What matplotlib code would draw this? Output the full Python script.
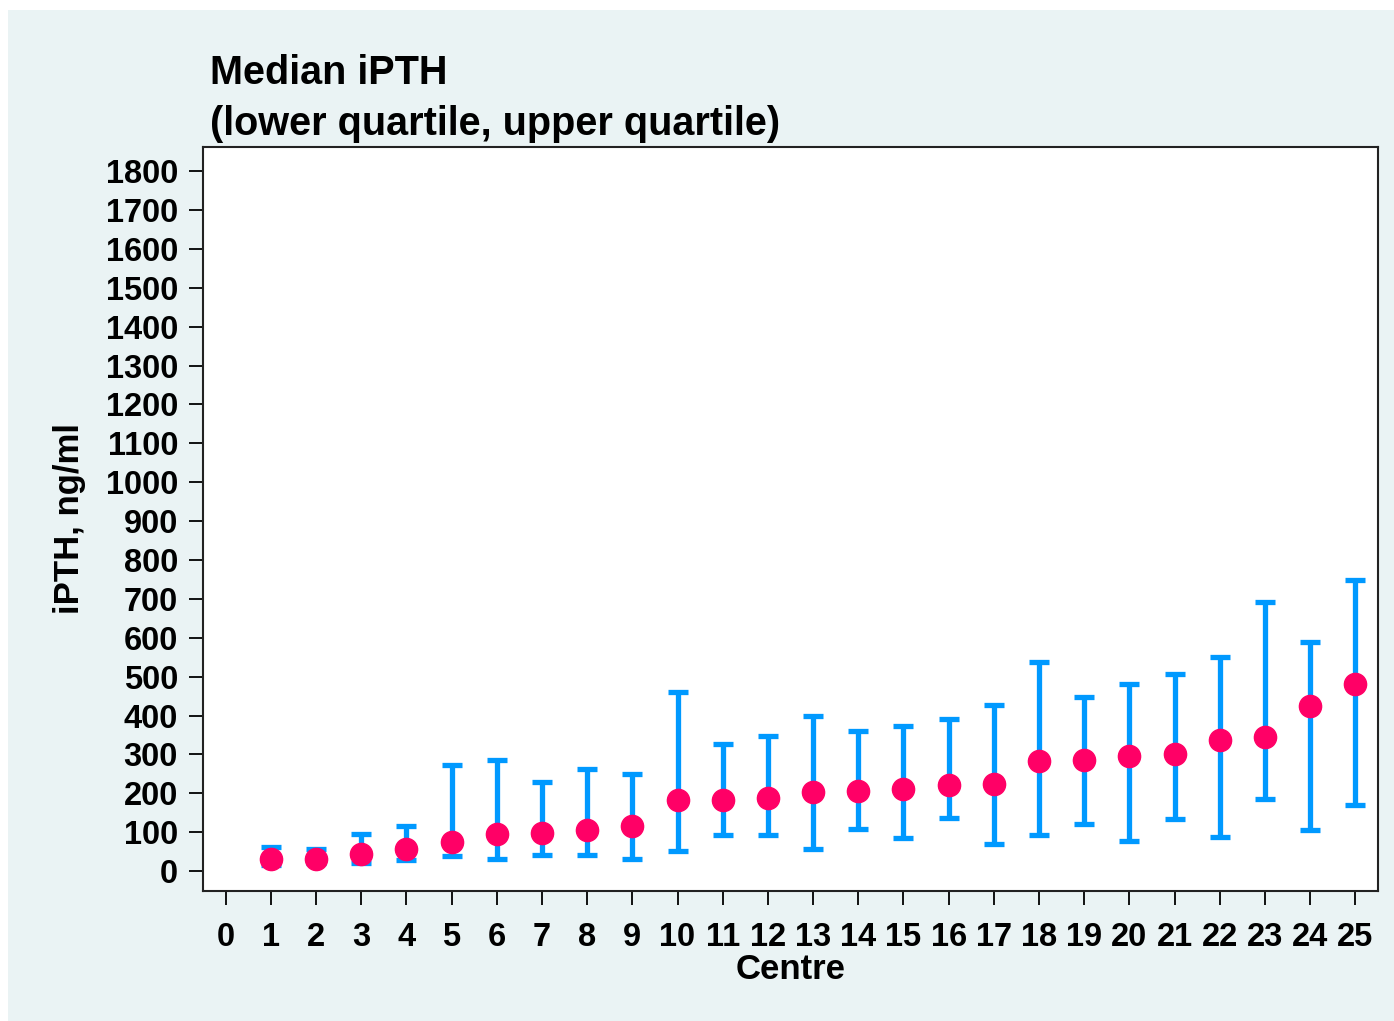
import numpy as np
import matplotlib
matplotlib.use('Agg')
import matplotlib.pyplot as plt
from matplotlib.patches import Rectangle

# Median iPTH per centre with lower / upper quartile
centres = list(range(1, 26))
median = [30, 30, 45, 56, 74, 96, 98, 107, 117, 182, 183, 188, 203, 207, 212,
          221, 223, 282, 285, 295, 300, 336, 344, 424, 482]
lower_q = [15, 20, 20, 28, 38, 32, 42, 42, 32, 52, 92, 93, 57, 109, 85,
           137, 69, 92, 122, 77, 133, 89, 186, 105, 171]
upper_q = [62, 57, 96, 116, 272, 285, 230, 262, 250, 461, 326, 348, 399, 361, 372,
           392, 427, 538, 447, 482, 508, 550, 692, 588, 749]

y_ticks = list(range(0, 1900, 100))
x_ticks = list(range(0, 26))

plt.rcParams['font.family'] = ['Liberation Sans', 'DejaVu Sans']
plt.rcParams['font.weight'] = 'bold'

fig = plt.figure(figsize=(13.94, 10.21), dpi=100)
fig.patch.set_facecolor('white')
# light outer panel, thin white strip on the top and left
fig.patches.append(Rectangle((8 / 1394, 0), 1, 1 - 10 / 1021,
                             transform=fig.transFigure, facecolor='#eaf3f4',
                             edgecolor='none', zorder=-10))

ax = fig.add_axes([203 / 1394, 1 - 891 / 1021, (1378 - 203) / 1394, (891 - 147) / 1021])
ax.set_zorder(1)
ax.set_facecolor('white')

med = np.array(median)
err = [med - np.array(lower_q), np.array(upper_q) - med]
ax.errorbar(centres, med, yerr=err, fmt='none', ecolor='#0099ff',
            elinewidth=3.8, capsize=7, capthick=3.8, zorder=2)
ax.plot(centres, med, 'o', color='#ff0066', markersize=16, zorder=3)

ax.set_xlim(-0.5, 25.5)
ax.set_ylim(-51, 1862)
ax.set_xticks(x_ticks)
ax.set_yticks(y_ticks)
ax.tick_params(axis='both', direction='out', length=10, width=1.3, labelsize=23.5)
ax.tick_params(axis='x', pad=12)
ax.tick_params(axis='y', pad=8)
for lbl in ax.get_xticklabels() + ax.get_yticklabels():
    lbl.set_fontweight('bold')
for s in ax.spines.values():
    s.set_linewidth(1.5)
    s.set_color('#222222')

ax.set_xlabel('Centre', fontsize=25, fontweight='bold', labelpad=0)
ax.set_ylabel('iPTH, ng/ml', fontsize=25, fontweight='bold', labelpad=14)

fig.text(210 / 1394, 1 - 73 / 1021, 'Median iPTH', fontsize=28.5, fontweight='bold', va='center')
fig.text(210 / 1394, 1 - 124 / 1021, '(lower quartile, upper quartile)', fontsize=28.5,
         fontweight='bold', va='center')

fig.savefig('out.png', dpi=100)
